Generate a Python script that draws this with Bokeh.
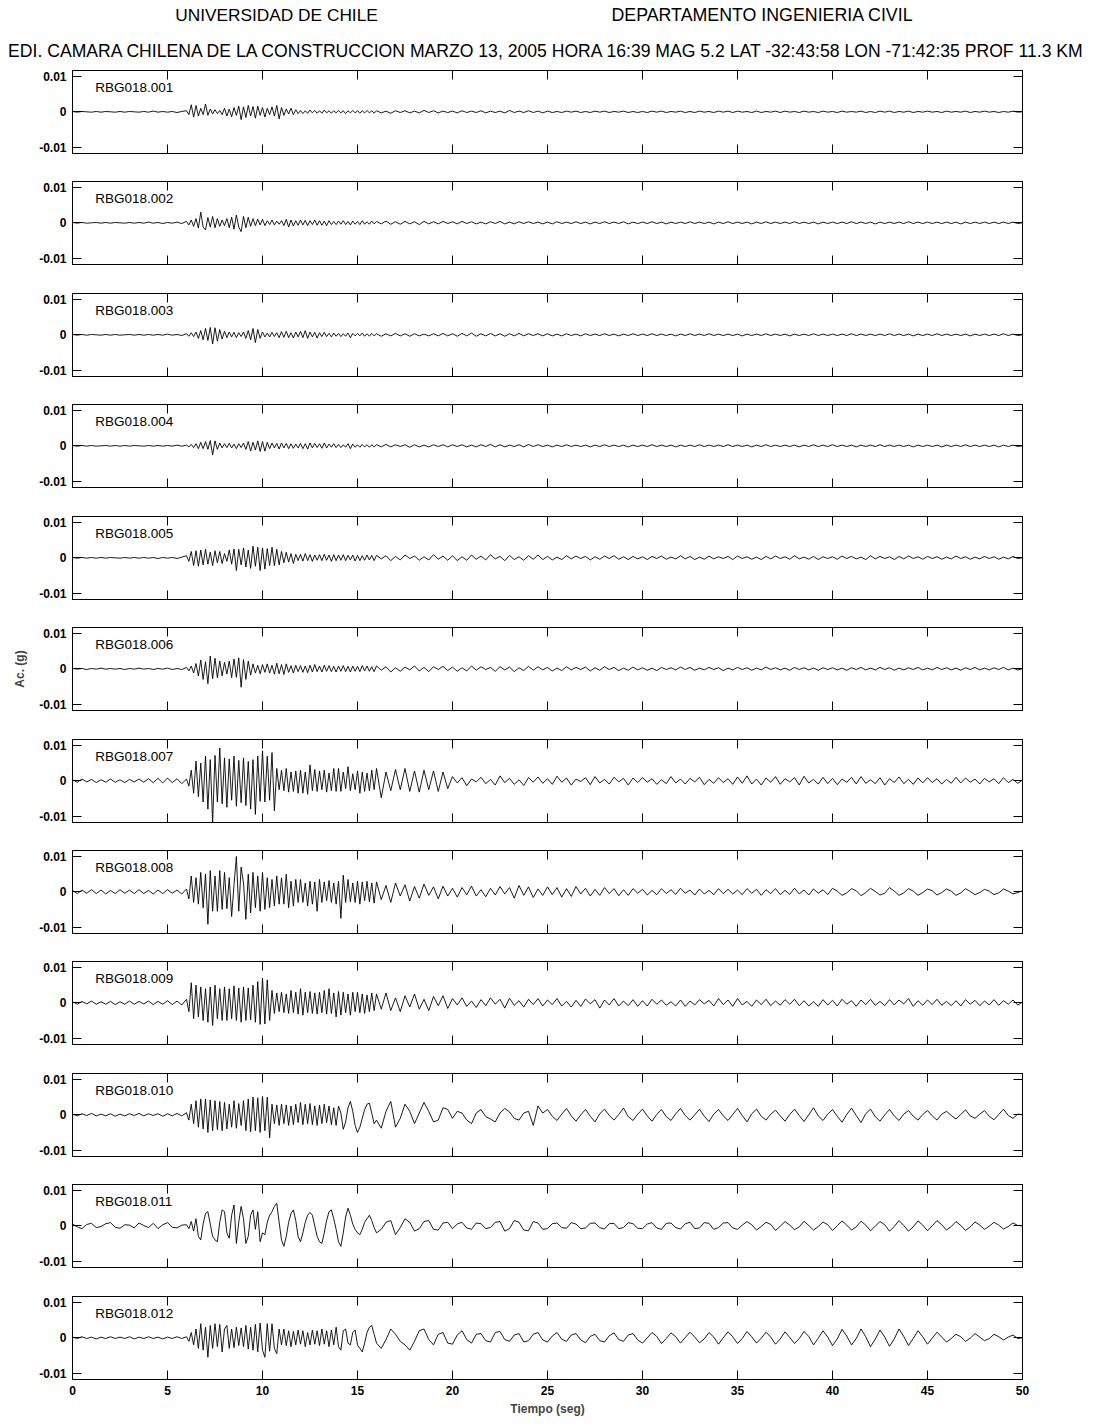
import numpy as np
from bokeh.plotting import figure
from bokeh.layouts import column
from bokeh.models import Range1d, FixedTicker, LinearAxis, Label, Title, CustomLabelingPolicy
from bokeh.core.properties import value
from bokeh.embed import file_html
from bokeh.resources import INLINE

FONT = "Liberation Sans"

HEADER_LEFT = "UNIVERSIDAD DE CHILE"
HEADER_RIGHT = "DEPARTAMENTO INGENIERIA CIVIL"
EVENT_LINE = ("EDI. CAMARA CHILENA DE LA CONSTRUCCION MARZO 13, 2005 HORA 16:39 "
              "MAG 5.2 LAT -32:43:58 LON -71:42:35 PROF 11.3 KM")

Y_TICKS = [-0.01, 0.0, 0.01]
Y_TICK_LABELS = ["-0.01", "0", "0.01"]
X_TICKS = [0, 5, 10, 15, 20, 25, 30, 35, 40, 45, 50]
X_TICK_LABELS = ["0", "5", "10", "15", "20", "25", "30", "35", "40", "45", "50"]
X_LABEL = "Tiempo (seg)"
Y_LABEL = "Ac. (g)"

# Samples are stored in units of 1e-4 g, in three blocks per channel:
#   pre-event  0-6 s   every 0.25 s
#   strong     6-16 s  every 0.125 s
#   coda       16-50 s every 0.25 s
UNIT = 1e-4
DT_COARSE = 0.25
DT_FINE = 0.125
T_STRONG = 6.0
T_CODA = 16.0

RBG018_001 = [
    [1, -1, 1, 0, -1, 1, -1, 1, 0, -1, 1, -1, 1, 0, -1, 1, -1, 2, -1, 1, -1, 1, -2, 1],
    [3, -8, 20, -15, 18, -12, 10, -8,
     22, -10, 8, -6, 6, -5, 4, -8,
     10, -12, 8, -14, 12, -10, 16, -22,
     14, -16, 18, -12, 15, -18, 16, -10,
     12, -15, 10, -8, 14, -12, 18, -20,
     12, -10, 8, -6, 10, -8, 6, -5,
     4, -5, 3, -4, 5, -3, 4, -4,
     3, -4, 5, -3, 3, -4, 3, -3,
     4, -3, 3, -5, 3, -3, 4, -3,
     3, -4, 3, -3, 4, -3, 3, -4],
    [3, -3, 2, -4, 3, -2, 3, -3, 2, -3, 4, -2, 3, -3, 2, -2,
     2, -3, 3, -2, 2, -2, 3, -3, 2, -2, 2, -3, 4, -2, 2, -2, 3, -2, 2, -3,
     2, -2, 1, -2, 2, -1, 2, -2, 1, -2, 2, -1, 2, -2, 1, -1, 2, -2, 1, -2,
     1, -2, 2, -1, 2, -2, 1, -1, 2, -2, 1, -2, 2, -1, 1, -2, 2, -1, 2, -2,
     2, -1, 1, -2, 2, -2, 1, -1, 2, -2, 2, -1, 1, -2, 2, -1, 1, -2, 2, -1,
     1, -2, 2, -1, 1, -1, 2, -2, 1, -2, 2, -1, 2, -2, 1, -1, 2, -2, 1, -1,
     2, -1, 1, -2, 2, -1, 1, -1, 2, -2, 1, -1, 2, -1, 1, -2, 1, -1, 2, -1, 0],
]

RBG018_002 = [
    [1, -1, 1, -1, 0, 1, -1, 1, -1, 1, 0, -1, 1, -1, 1, -1, 2, -1, 1, -2, 1, -1, 2, -2],
    [4, -6, 8, -10, 12, -15, 30, -12,
     -20, 15, -12, 18, -14, 12, -10, 8,
     -8, 12, -14, 16, -18, 22, -12, -25,
     18, -14, 16, -10, 12, -8, 10, -6,
     10, -8, 6, -5, 8, -6, 5, -4,
     6, -8, 10, -12, 8, -9, 6, -7,
     8, -6, 7, -8, 6, -5, 8, -7,
     6, -7, 5, -8, 6, -5, 4, -5,
     5, -4, 6, -5, 4, -6, 5, -4,
     4, -5, 6, -4, 3, -4, 5, -3],
    [4, -3, 5, -4, 3, -4, 4, -3, 3, -5, 4, -3, 3, -3, 4, -2,
     3, -3, 4, -2, 3, -3, 2, -3, 3, -2, 4, -3, 2, -3, 3, -2, 3, -2, 2, -3,
     2, -3, 3, -2, 2, -2, 3, -2, 2, -3, 2, -2, 3, -2, 2, -2, 3, -3, 2, -2,
     2, -2, 3, -2, 2, -3, 2, -2, 2, -2, 3, -2, 2, -2, 2, -3, 2, -2, 3, -2,
     2, -2, 2, -3, 2, -2, 3, -2, 2, -2, 2, -2, 3, -2, 2, -2, 2, -3, 2, -2,
     2, -2, 2, -2, 3, -2, 2, -2, 2, -3, 2, -2, 2, -2, 2, -2, 3, -2, 2, -2,
     2, -2, 2, -2, 2, -2, 2, -3, 2, -2, 2, -2, 2, -2, 2, -2, 2, -2, 2, -2, 0],
]

RBG018_003 = [
    [1, -1, 1, -1, 1, 0, -1, 1, -1, 1, -1, 0, 1, -1, 1, -1, 1, -1, 1, -1, 2, -1, 1, -2],
    [3, -4, 6, -5, 8, -10, 12, -14,
     18, -16, 21, -26, 20, -18, 15, -12,
     10, -8, 8, -6, 7, -8, 6, -5,
     8, -10, 12, -14, 18, -22, 15, -10,
     8, -6, 5, -6, 7, -5, 6, -8,
     9, -7, 10, -8, 6, -9, 8, -6,
     10, -8, 12, -10, 8, -6, 7, -9,
     6, -5, 7, -5, 4, -6, 5, -4,
     4, -5, 3, -4, 5, -8, 4, -3,
     4, -3, 5, -4, 3, -4, 4, -3],
    [3, -4, 3, -3, 4, -3, 3, -4, 3, -3, 2, -3, 3, -3, 4, -3,
     3, -4, 4, -3, 5, -4, 3, -3, 4, -3, 3, -4, 3, -3, 4, -3, 3, -2, 3, -3,
     3, -3, 2, -3, 3, -2, 2, -3, 3, -2, 2, -2, 3, -2, 2, -3, 2, -2, 3, -2,
     2, -2, 3, -2, 2, -2, 2, -3, 2, -2, 3, -2, 2, -2, 3, -2, 2, -2, 2, -2,
     2, -3, 2, -2, 2, -2, 3, -2, 2, -2, 2, -3, 2, -2, 2, -2, 3, -2, 2, -2,
     2, -2, 2, -2, 3, -2, 2, -2, 2, -2, 2, -2, 3, -2, 2, -2, 2, -3, 2, -2,
     2, -2, 3, -2, 2, -2, 2, -2, 2, -3, 2, -2, 2, -2, 2, -2, 3, -2, 2, -2, 0],
]

RBG018_004 = [
    [1, -1, 1, -1, 1, -1, 0, 1, -1, 1, -1, 1, -1, 1, 0, -1, 1, -1, 1, -1, 1, -1, 2, -1],
    [2, -3, 4, -5, 6, -8, 10, -8,
     12, -10, 15, -26, 14, -10, 8, -6,
     6, -5, 7, -6, 5, -8, 6, -5,
     8, -10, 12, -15, 10, -12, 14, -16,
     12, -15, 10, -8, 8, -6, 7, -9,
     8, -6, 7, -8, 6, -7, 5, -6,
     7, -8, 6, -9, 8, -6, 7, -5,
     6, -7, 8, -6, 5, -4, 6, -5,
     4, -5, 3, -4, 6, -8, 5, -4,
     3, -4, 4, -3, 3, -4, 3, -3],
    [3, -3, 4, -3, 3, -2, 3, -4, 3, -3, 2, -3, 3, -2, 3, -3,
     3, -2, 3, -3, 2, -3, 3, -2, 4, -3, 3, -3, 2, -2, 3, -3, 4, -2, 3, -2,
     2, -3, 2, -2, 3, -2, 2, -2, 2, -3, 2, -2, 3, -2, 2, -2, 2, -3, 2, -2,
     2, -2, 3, -2, 2, -2, 2, -3, 2, -2, 2, -2, 3, -2, 2, -2, 2, -2, 3, -2,
     2, -2, 2, -3, 2, -2, 3, -2, 2, -2, 2, -2, 2, -3, 2, -2, 3, -2, 2, -2,
     3, -2, 2, -2, 2, -3, 2, -2, 2, -2, 3, -2, 2, -2, 2, -2, 2, -3, 2, -2,
     2, -2, 2, -3, 2, -2, 2, -2, 3, -2, 2, -2, 2, -2, 2, -3, 2, -2, 2, -2, 0],
]

RBG018_005 = [
    [1, -1, 1, -1, 1, -1, 1, -1, 1, 0, -1, 1, -1, 1, -1, 1, -1, 1, -2, 1, -1, 1, -2, 2],
    [6, -10, 18, -22, 20, -24, 22, -20,
     24, -18, 16, -22, 20, -14, 18, -16,
     12, -10, 22, -18, 25, -36, 24, -20,
     28, -26, 22, -30, 33, -24, 30, -36,
     28, -32, 26, -22, 30, -22, 24, -20,
     18, -14, 16, -12, 12, -16, 10, -8,
     10, -9, 12, -8, 9, -10, 8, -7,
     9, -8, 10, -7, 8, -10, 9, -8,
     8, -7, 9, -8, 7, -6, 8, -9,
     7, -8, 6, -7, 8, -6, 7, -8],
    [7, -3, 6, -8, 4, -6, 8, -2, 5, -7, 3, -6, 9, -4, 5, -7,
     6, -8, 3, -7, 8, -4, 5, -6, 9, -3, 4, -8, 7, -5, 3, -7, 6, -4, 8, -5,
     4, -6, 2, -5, 6, -3, 5, -2, 4, -6, 3, -4, 5, -2, 6, -4, 3, -5, 4, -3,
     3, -5, 4, -2, 5, -4, 2, -3, 6, -3, 4, -5, 2, -4, 5, -3, 3, -2, 4, -5,
     5, -2, 3, -4, 2, -5, 4, -3, 5, -2, 3, -4, 6, -3, 2, -4, 4, -5, 3, -2,
     3, -4, 5, -2, 4, -3, 2, -5, 6, -3, 4, -2, 3, -5, 4, -3, 5, -2, 3, -4,
     4, -2, 3, -4, 2, -3, 5, -2, 3, -4, 2, -3, 4, -2, 3, -4, 2, -3, 4, -2, 0],
]

RBG018_006 = [
    [1, -1, 1, -2, 1, -1, 2, -1, 1, -1, 1, -2, 1, -1, 2, -1, 1, -2, 1, -1, 2, -2, 1, -2],
    [4, -6, 8, -12, 15, -20, 25, -30,
     20, -42, 36, -28, 30, -25, 22, -20,
     18, -15, 22, -25, 28, -24, 31, -52,
     26, -30, 22, -18, 14, -12, 10, -14,
     12, -10, 14, -12, 10, -15, 16, -14,
     12, -16, 14, -10, 9, -12, 10, -8,
     9, -10, 8, -11, 10, -9, 12, -8,
     8, -9, 10, -7, 9, -8, 7, -9,
     8, -7, 9, -8, 7, -9, 8, -7,
     7, -8, 9, -6, 8, -7, 6, -8],
    [8, -4, 6, -9, 3, -7, 5, -3, 8, -6, 4, -8, 6, -2, 7, -5,
     5, -7, 3, -6, 8, -4, 6, -2, 4, -7, 6, -3, 5, -8, 3, -5, 7, -4, 6, -3,
     4, -6, 2, -5, 6, -3, 4, -2, 5, -6, 3, -4, 6, -2, 4, -5, 2, -4, 5, -3,
     3, -4, 2, -5, 4, -2, 3, -3, 5, -2, 4, -4, 2, -3, 4, -2, 3, -5, 2, -3,
     4, -2, 3, -4, 2, -3, 5, -2, 3, -3, 2, -4, 4, -2, 3, -3, 2, -4, 3, -2,
     3, -3, 2, -4, 3, -2, 4, -3, 2, -3, 4, -2, 3, -4, 2, -3, 3, -2, 4, -3,
     2, -3, 4, -2, 3, -3, 2, -4, 3, -2, 4, -3, 2, -3, 3, -2, 4, -3, 2, -3, 0],
]

RBG018_007 = [
    [3, -4, 5, -3, 4, -5, 3, -4, 5, -4, 3, -5, 4, -3, 5, -4, 6, -5, 7, -6, 8, -5, 6, -8],
    [5, -15, 30, -35, 56, -45, 50, -60,
     70, -80, 60, -118, 72, -60, 93, -65,
     65, -75, 62, -55, 70, -72, 58, -62,
     65, -70, 55, -80, 60, -95, 70, -58,
     85, -60, 70, -55, 80, -85, 35, -25,
     30, -28, 35, -32, 25, -30, 28, -35,
     30, -35, 25, -38, 45, -28, 32, -30,
     28, -25, 30, -32, 22, -28, 35, -30,
     35, -30, 25, -22, 40, -28, 20, -25,
     28, -35, 25, -30, 22, -28, 30, -25],
    [35, -48, 25, -28, 32, -25, 35, -30, 28, -32, 30, -25, 28, -30, 25, -22,
     12, -6, 9, -14, 5, -3, 10, -8, 4, -12, 14, -5, 7, -10, 3, -13, 9, -4, 11, -7,
     6, -10, 13, -4, 8, -12, 5, -2, 9, -11, 12, -6, 4, -9, 10, -3, 7, -12, 8, -5,
     9, -4, 6, -10, 3, -8, 12, -6, 5, -9, 7, -3, 10, -11, 4, -7, 9, -5, 6, -10,
     11, -7, 14, -9, 5, -12, 8, -4, 12, -10, 6, -3, 9, -12, 13, -6, 4, -9, 10, -8,
     7, -11, 5, -4, 10, -9, 12, -7, 3, -8, 9, -12, 6, -5, 11, -8, 4, -10, 8, -6,
     9, -5, 6, -9, 4, -7, 10, -6, 8, -4, 5, -9, 7, -3, 6, -8, 9, -5, 4, -7, 2],
]

RBG018_008 = [
    [4, -5, 5, -4, 6, -5, 5, -6, 4, -5, 6, -4, 5, -5, 6, -5, 4, -6, 5, -5, 6, -4, 5, -6],
    [8, -20, 45, -30, 40, -35, 55, -45,
     50, -92, 60, -55, 45, -55, 60, -50,
     55, -48, 40, -70, 20, 100, -55, 70,
     25, -78, 50, -60, 55, -45, 45, -55,
     55, -50, 40, -45, 35, -40, 45, -35,
     40, -35, 50, -45, 30, -40, 35, -30,
     35, -30, 25, -40, 30, -35, 28, -55,
     35, -30, 28, -25, 32, -30, 25, -35,
     30, -75, 47, -30, 35, -28, 25, -30,
     30, -35, 28, -25, 30, -28, 25, -32],
    [28, -22, 18, -30, 25, -12, 20, -26, 15, -18, 22, -10, 14, -20, 16, -12,
     10, -15, 12, -8, 16, -12, 6, -14, 10, -9, 15, -6, 12, -18, 18, -10, 14, -16, 8, -10,
     14, -8, 12, -15, 9, -13, 15, -6, 10, -12, 7, -10, 12, -5, 9, -11, 6, -10, 9, -4,
     7, -9, 4, -8, 9, -5, 6, -7, 10, -4, 5, -9, 8, -6, 4, -8, 9, -5, 7, -6,
     5, -8, 9, -4, 7, -10, 6, -5, 9, -8, 4, -7, 10, -6, 5, -9, 8, -4, 6, -8,
     10, 2, -10, -3, 9, 3, -11, -2, 10, 1, -9, -4, 12, 2, -10, -3, 9, 2, -10, -2,
     8, 3, -9, -2, 8, 2, -10, -3, 9, 1, -8, -2, 7, 2, -8, -3, 8, 2, -6, -2, 3],
]

RBG018_009 = [
    [3, -4, 4, -3, 5, -4, 3, -4, 4, -5, 3, -4, 5, -4, 4, -3, 5, -5, 4, -4, 6, -5, 5, -6],
    [10, -25, 57, -45, 50, -40, 45, -50,
     40, -55, 45, -64, 50, -45, 40, -50,
     45, -50, 40, -45, 48, -50, 42, -55,
     45, -50, 42, -48, 50, -55, 60, -61,
     70, -60, 65, -50, 35, -30, 28, -25,
     30, -28, 25, -30, 35, -28, 30, -32,
     40, -35, 30, -28, 32, -30, 28, -32,
     30, -28, 35, -32, 40, -30, 28, -40,
     32, -35, 30, -28, 25, -35, 30, -25,
     30, -28, 25, -30, 22, -25, 28, -22],
    [25, -18, 28, -22, 14, -25, 20, -12, 25, -18, 10, -22, 18, -8, 20, -16,
     12, -6, 14, -10, 5, -13, 9, -8, 14, -4, 10, -15, 13, -7, 6, -12, 10, -5, 12, -9,
     8, -5, 12, -9, 4, -12, 7, -10, 11, -3, 9, -15, 8, -6, 12, -9, 5, -8, 9, -10,
     6, -9, 10, -4, 8, -7, 3, -9, 8, -10, 5, -6, 9, -3, 7, -9, 12, -5, 8, -10,
     12, -6, 4, -10, 8, -5, 10, -8, 5, -7, 9, -4, 10, -8, 6, -9, 3, -10, 9, -6,
     7, -9, 10, -4, 6, -10, 8, -5, 10, -7, 4, -8, 9, -6, 8, -3, 12, -10, 6, -7,
     8, -5, 10, -7, 4, -8, 6, -9, 9, -4, 7, -8, 5, -6, 9, -7, 6, -4, 8, -6, 2],
]

RBG018_010 = [
    [2, -3, 3, -2, 4, -3, 2, -3, 3, -4, 2, -3, 3, -2, 4, -3, 3, -2, 3, -4, 3, -3, 4, -3],
    [6, -15, 30, -25, 40, -35, 45, -40,
     45, -50, 42, -45, 40, -42, 38, -45,
     35, -40, 30, -35, 40, -38, 32, -30,
     40, -45, 45, -48, 50, -45, 48, -50,
     52, -45, 50, -65, 30, -25, 28, -30,
     30, -25, 28, -30, 25, -28, 30, -22,
     35, -28, 30, -25, 32, -28, 25, -30,
     28, -25, 30, -22, 25, -28, 20, -30,
     25, 5, -41, -20, 20, 38, 10, -30,
     -50, -35, -10, 15, 30, 33, 5, -25],
    [-15, -38, 10, 38, -35, -10, 30, 10, -25, 5, 35, 10, -20, -15, 20, 15,
     -10, 10, 5, -15, -25, 5, 15, -5, -12, -20, 5, 18, 8, -10, -15, 5, 10, -30, 25, 5,
     15, -4, -16, 2, 18, -3, -18, 0, 15, -4, -20, 3, 16, -2, -15, 1, 19, -5, -16, 2,
     16, -3, -18, 1, 15, -5, -16, 3, 18, -2, -15, 0, 16, -4, -19, 2, 15, -3, -16, 1,
     18, -2, -20, 3, 16, -4, -15, 2, 13, -3, -18, 1, 16, -2, -19, 0, 20, -3, -16, 2,
     15, -4, -21, 1, 19, -2, -22, 3, 16, -5, -18, 0, 15, -3, -16, 2, 12, -4, -15, 1,
     12, -3, -15, 2, 10, -2, -12, 1, 14, -3, -10, 2, 12, -4, -14, 1, 16, -2, -10, 2, 0],
]

RBG018_011 = [
    [5, -3, -8, 4, 7, -5, -2, 6, 9, -4, -7, 3, 2, -6, 8, 1, -5, 7, -8, 3, 9, -4, -6, 2],
    [3, -8, 12, -15, 20, -30, -40, 5,
     35, 40, 5, -30, -40, -45, 10, 45,
     40, -20, -35, 30, 59, -50, 10, 55,
     20, -50, -30, 30, 45, -10, 40, -45,
     -20, -25, 10, 30, 40, 55, 64, 10,
     -40, -58, -30, 10, 35, 45, 15, -30,
     -45, -20, 10, 30, 38, 30, 0, -30,
     -45, -50, -20, 15, 40, 45, 20, -10,
     -45, -58, -20, 25, 50, 30, 5, -10,
     -20, -25, -10, 10, 20, 30, 15, -5],
    [-20, -10, 10, 15, -25, -5, 20, 10, -15, -8, 12, 15, -10, -12, 8, 10,
     -8, 5, 10, -6, -10, 8, 6, -8, -5, 10, 12, -15, -8, 15, 10, -12, -14, 12, 8, -10,
     -8, 6, 8, -5, -7, 9, 5, -8, -6, 7, 8, -5, -9, 6, 7, -8, -5, 9, 6, -7,
     -8, 5, 9, -6, -10, 7, 8, -5, -9, 6, 10, -8, -6, 9, 7, -10, -5, 8, 9, -6,
     -10, 2, 12, 3, -12, -2, 10, 4, -13, -1, 12, 2, -11, -3, 13, 1, -12, -2, 11, 3,
     -13, 0, 14, 2, -12, -3, 13, 2, -14, -1, 12, 3, -15, -2, 15, 1, -15, -3, 14, 2,
     -14, 0, 15, 3, -12, -2, 12, 1, -13, -3, 11, 2, -10, -1, 10, 2, -9, -2, 8, 1, 0],
]

RBG018_012 = [
    [2, -2, 3, -2, 2, -3, 2, -2, 3, -2, 2, -2, 3, -3, 2, -2, 3, -2, 2, -3, 2, -2, 3, -2],
    [3, -10, 15, -20, 25, -30, 40, -35,
     30, -55, 35, -30, 40, -25, 38, -40,
     25, 35, -30, 25, -28, 30, -22, 28,
     -25, 35, -32, 30, -35, 38, -40, 42,
     -35, -55, 40, -38, 40, -30, -45, 25,
     -20, 25, -22, 20, -25, 18, -20, 22,
     -18, 20, -25, 15, -20, 22, -18, 20,
     -22, 25, -18, 20, -25, 22, -20, 30,
     -25, -35, 20, 25, -15, -20, 15, 22,
     -20, -30, -40, -15, 15, 30, 35, 10],
    [-15, -30, -5, 25, 10, -10, -20, -35, -10, 20, 25, -5, -20, 10, 15, -15,
     -18, 8, 20, -5, -15, 10, 12, -8, -12, 15, 18, -5, -10, 8, 12, -12, -8, 10, 15, -6,
     -12, 5, 15, -4, -10, 8, 12, -6, -14, 4, 10, -8, -12, 6, 14, -5, -10, 8, 12, -6,
     -15, 0, 15, 4, -16, -2, 14, 3, -15, 1, 16, 2, -14, -3, 15, 2, -18, 0, 17, 3,
     -16, -2, 18, 3, -15, -1, 16, 2, -18, -3, 17, 1, -16, -2, 18, 4, -20, -1, 20, 2,
     -22, -3, 24, 5, -20, -2, 25, 3, -25, -4, 22, 2, -24, -3, 25, 4, -22, -2, 20, 3,
     -18, -1, 16, 2, -12, -2, 10, 3, -10, -1, 12, 2, -8, -2, 10, 3, -6, 2, 8, -2, 0],
]

CHANNELS = ["RBG018.001", "RBG018.002", "RBG018.003", "RBG018.004",
            "RBG018.005", "RBG018.006", "RBG018.007", "RBG018.008",
            "RBG018.009", "RBG018.010", "RBG018.011", "RBG018.012"]
RECORDS = [RBG018_001, RBG018_002, RBG018_003, RBG018_004, RBG018_005, RBG018_006,
           RBG018_007, RBG018_008, RBG018_009, RBG018_010, RBG018_011, RBG018_012]

# page geometry (pixels)
PAGE_W = 1095
FRAME_W = 950
FRAME_H = 83
BORDER_L = 72
BORDER_R = PAGE_W - BORDER_L - FRAME_W
BORDER_T = 6
HEADER_FRAME_H = 38
HEADER_BORDER_B = 26
PANEL_PITCH = [111, 112, 111, 112, 111, 112, 111, 111, 112, 111, 112]
LAST_BORDER_B = 45

# ticks drawn on top / right / inner bottom edges carry no labels
NO_LABELS = CustomLabelingPolicy(code="""
for (let i = 0; i < indices.size; i++) { indices.unset(i) }
return indices
""")


def style_axis(ax, show_labels):
    ax.major_tick_in = 9
    ax.major_tick_out = 0
    ax.minor_tick_line_color = None
    ax.axis_line_color = "black"
    ax.major_tick_line_color = "black"
    ax.major_tick_line_width = 1
    ax.major_label_text_font = FONT
    ax.major_label_text_color = "black"
    if show_labels:
        ax.major_label_text_font_size = "12px"
        ax.major_label_text_font_style = "bold"
        ax.major_label_standoff = 6
    else:
        ax.major_label_text_font_size = "0px"
        ax.major_label_standoff = 0
        ax.major_label_policy = NO_LABELS


def make_panel(name, record, border_bottom, last, with_ylabel):
    pre, strong, coda = record
    t = np.concatenate([
        np.arange(len(pre)) * DT_COARSE,
        T_STRONG + np.arange(len(strong)) * DT_FINE,
        T_CODA + np.arange(len(coda)) * DT_COARSE,
    ])
    acc = np.array(pre + strong + coda, dtype=float) * UNIT

    p = figure(frame_width=FRAME_W, frame_height=FRAME_H,
               min_border_left=BORDER_L, min_border_right=BORDER_R,
               min_border_top=BORDER_T, min_border_bottom=border_bottom,
               x_range=Range1d(0, 50), y_range=Range1d(-0.0118, 0.0117),
               x_axis_type=None, y_axis_type=None,
               output_backend="svg", toolbar_location=None)
    p.outline_line_color = "black"
    p.outline_line_width = 1
    p.background_fill_color = "white"
    p.border_fill_color = "white"

    xt = FixedTicker(ticks=X_TICKS)
    yt = FixedTicker(ticks=Y_TICKS)

    below = LinearAxis(ticker=xt)
    style_axis(below, last)
    if last:
        below.major_label_overrides = dict(zip(X_TICKS, X_TICK_LABELS))
        below.axis_label = X_LABEL
        below.axis_label_text_font = FONT
        below.axis_label_text_font_size = "12px"
        below.axis_label_text_font_style = "bold"
        below.axis_label_standoff = 4
    p.add_layout(below, "below")

    above = LinearAxis(ticker=xt)
    style_axis(above, False)
    p.add_layout(above, "above")

    left = LinearAxis(ticker=yt)
    style_axis(left, True)
    left.major_label_overrides = dict(zip(Y_TICKS, Y_TICK_LABELS))
    if with_ylabel:
        left.axis_label = Y_LABEL
        left.axis_label_text_font = FONT
        left.axis_label_text_font_size = "12px"
        left.axis_label_text_font_style = "bold"
        left.axis_label_standoff = 9
    p.add_layout(left, "left")

    right = LinearAxis(ticker=yt)
    style_axis(right, False)
    p.add_layout(right, "right")

    p.line(t, acc, line_color="black", line_width=0.9)
    p.text(x=[1.2], y=[0.0070], text=[name], text_font=value(FONT),
           text_font_size="13.5px", text_color="black", text_baseline="middle",
           text_align="left")
    return p


# Header strip: same side borders as the panels, x measured in page pixels.
header = figure(frame_width=FRAME_W, frame_height=HEADER_FRAME_H,
                min_border_left=BORDER_L, min_border_right=BORDER_R,
                min_border_top=0, min_border_bottom=HEADER_BORDER_B,
                x_range=Range1d(BORDER_L, BORDER_L + FRAME_W),
                y_range=Range1d(HEADER_FRAME_H, 0),
                x_axis_type=None, y_axis_type=None,
                output_backend="svg", toolbar_location=None)
header.outline_line_color = None
header.background_fill_color = "white"
header.border_fill_color = "white"
for x, txt, size in [(276, HEADER_LEFT, "17.3px"), (762, HEADER_RIGHT, "17.8px")]:
    header.add_layout(Label(x=x, y=14, text=txt, text_font=FONT, text_font_size=size,
                            text_color="black", text_align="center",
                            text_baseline="middle"))
header.add_layout(Title(text=EVENT_LINE, align="center", text_font=FONT,
                        text_font_size="17.6px", text_font_style="normal",
                        text_color="black", standoff=0), "below")

panels = []
n = len(CHANNELS)
for i, (name, rec) in enumerate(zip(CHANNELS, RECORDS)):
    last = i == n - 1
    bb = LAST_BORDER_B if last else PANEL_PITCH[i] - BORDER_T - FRAME_H
    panels.append(make_panel(name, rec, bb, last, with_ylabel=(i == 5)))

layout = column([header] + panels, spacing=0)

with open("out.html", "w") as f:
    f.write(file_html(layout, INLINE, title="Acelerogramas RBG018"))
